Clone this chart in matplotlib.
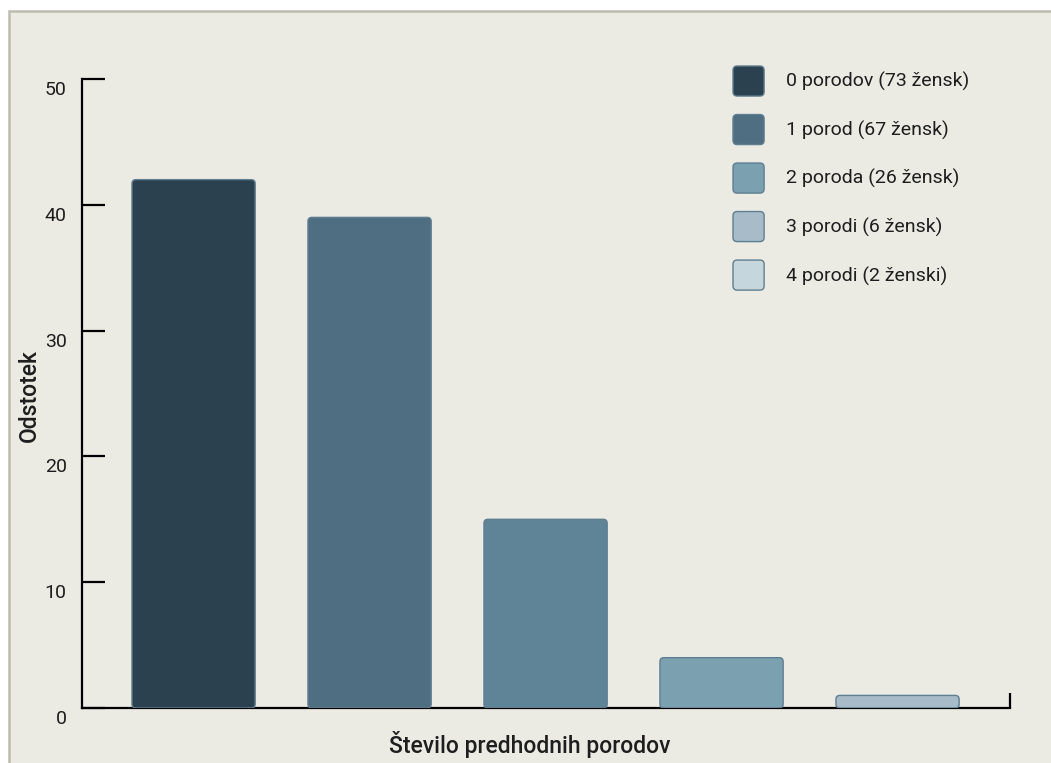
"""Bar chart: share of women by number of previous births."""
import matplotlib
matplotlib.use("Agg")
import matplotlib.pyplot as plt
from matplotlib.patches import FancyBboxPatch, Patch, Rectangle
from matplotlib.legend_handler import HandlerPatch
from matplotlib.transforms import ScaledTranslation

plt.rcParams["font.family"] = ["Roboto", "DejaVu Sans"]

categories = ["0", "1", "2", "3", "4"]
values = [42, 39, 15, 4, 1]
legend_labels = ["0 porodov (73 žensk)", "1 porod (67 žensk)", "2 poroda (26 žensk)",
                 "3 porodi (6 žensk)", "4 porodi (2 ženski)"]
y_ticks = [0, 10, 20, 30, 40, 50]

bar_colors = ["#2C414F", "#4F6E81", "#5F8497", "#7BA1B1", "#A8BBC8"]
legend_colors = ["#2C414F", "#4F6E81", "#7BA1B1", "#A8BBC8", "#C5D7DD"]
edge = "#5E7E91"
bg = "#EBEBE4"
text_c = "#1E1E1E"

W, H = 1051, 763
fig = plt.figure(figsize=(W / 100, H / 100), dpi=100, facecolor="white")
fig.add_artist(Rectangle((9 / W, -0.2), 1.3, 1 - 11 / H + 0.2, transform=fig.transFigure,
                         facecolor=bg, edgecolor="#BDBCAE", lw=1.8, zorder=0))

ax = fig.add_axes([82 / W, 1 - 708 / H, 928 / W, 629 / H])
ax.set_facecolor("none")

x = list(range(len(categories)))
bars = ax.bar(x, values, width=0.70, color=bar_colors)
ax.set_xlim(-0.634, 4.639)
ax.set_ylim(0, 50)

# swap the plain rectangles for rounded ones
aspect = (176 / 1.0) / (629 / 50)
for rect in list(bars):
    bx, by = rect.get_xy()
    fb = FancyBboxPatch((bx, by), rect.get_width(), rect.get_height(),
                        boxstyle="round,pad=0,rounding_size=0.022",
                        mutation_aspect=aspect,
                        facecolor=rect.get_facecolor(), edgecolor=edge, lw=1.0, zorder=3)
    rect.remove()
    ax.add_patch(fb)

for s in ("top", "right"):
    ax.spines[s].set_visible(False)
for s in ("left", "bottom"):
    ax.spines[s].set_linewidth(1.6)
    ax.spines[s].set_color("black")
    ax.spines[s].set_zorder(2)

ax.set_yticks(y_ticks)
ax.tick_params(axis="y", direction="in", length=16.5, width=1.6, pad=11,
               labelsize=14, labelcolor=text_c)
shift = ScaledTranslation(0, -0.09, fig.dpi_scale_trans)
for lab in ax.get_yticklabels():
    lab.set_transform(lab.get_transform() + shift)

ax.set_xticks([4.639])
ax.set_xticklabels([""])
ax.tick_params(axis="x", direction="in", length=11, width=1.6)

ax.set_ylabel("Odstotek", fontsize=16.5, color=text_c, fontweight="medium")
ax.yaxis.set_label_coords(-0.044, 0.497)
ax.set_xlabel("Število predhodnih porodov", fontsize=16.5, color=text_c, fontweight="medium")
ax.xaxis.set_label_coords(0.483, -0.036)


def rounded_square(legend, orig_handle, xdescent, ydescent, width, height, fontsize):
    return FancyBboxPatch((-xdescent, -ydescent), width, height,
                          boxstyle="round,pad=0,rounding_size=3")


handles = [Patch(facecolor=c, edgecolor=edge, lw=1.0) for c in legend_colors]
fig.legend(handles, legend_labels, loc="upper left", bbox_to_anchor=(733 / W, 1 - 66 / H),
           frameon=False, fontsize=14, labelcolor=text_c, handlelength=1.6, handleheight=2.0,
           labelspacing=0.95, handletextpad=1.15, borderpad=0, borderaxespad=0,
           handler_map={Patch: HandlerPatch(patch_func=rounded_square)})

fig.savefig("out.png", dpi=100, facecolor="white")
